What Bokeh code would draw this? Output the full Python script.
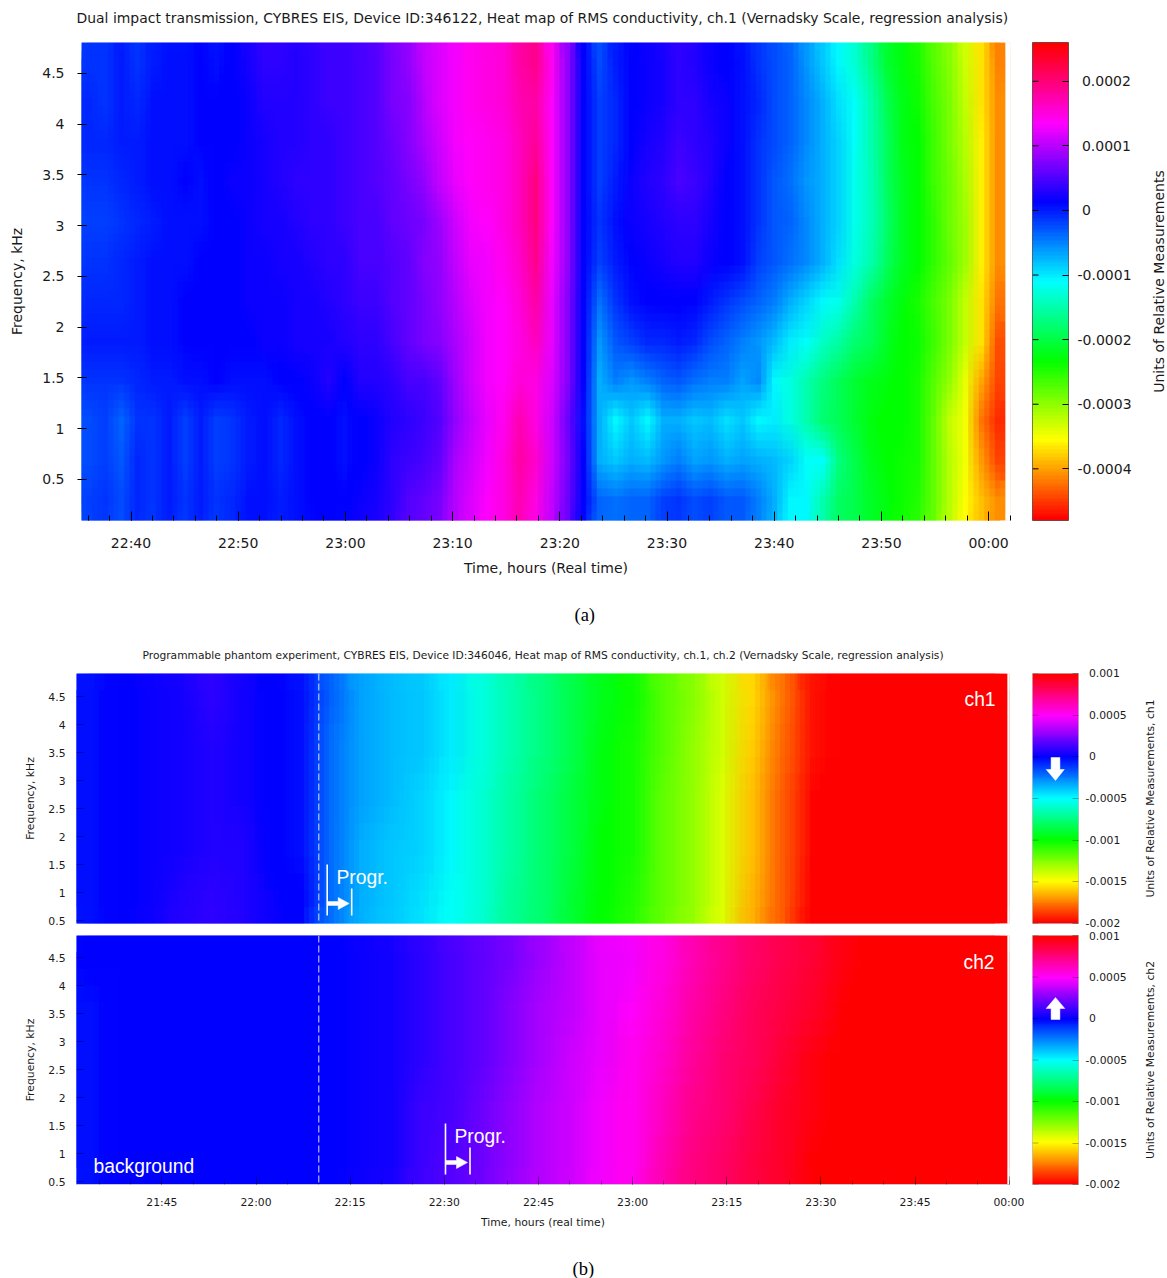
import colorsys
import numpy as np
from bokeh.plotting import figure
from bokeh.layouts import row, column
from bokeh.embed import file_html
from bokeh.resources import INLINE
from bokeh.models import (FixedTicker, LinearColorMapper, Label, Span, Range1d)

# ---- values, in units of 1e-6 (relative measurement) ----
# panel (a): rows listed from top (4.65 kHz) to bottom (0.3 kHz), 58 time columns
a_rows_top_to_bottom = [
 [-15,-15,-5,-15,-5,0,5,10,5,15,25,35,35,30,40,45,45,50,55,70,85,105,120,130,140,148,155,175,190,140,85,15,-25,-5,10,20,25,35,30,22,15,0,-15,-25,-40,-60,-85,-110,-130,-165,-205,-225,-245,-275,-300,-330,-365,-415],
 [-10,-12,-5,-8,0,5,5,10,10,15,20,30,30,30,35,45,45,50,55,70,80,100,118,130,140,145,155,170,175,135,85,15,-20,-8,12,22,28,38,35,25,18,5,-10,-25,-35,-55,-75,-95,-112,-150,-190,-215,-240,-270,-295,-325,-365,-410],
 [-10,-10,-5,-5,0,0,5,8,12,15,20,28,30,32,35,40,45,50,55,65,75,95,112,128,135,140,150,165,180,135,85,15,-18,-8,15,25,32,45,40,30,18,3,-12,-28,-38,-55,-75,-92,-112,-145,-185,-215,-235,-265,-290,-320,-362,-410],
 [-12,-15,-8,-5,0,2,8,5,12,18,20,25,30,35,38,40,45,48,55,60,70,85,105,125,135,140,148,165,195,135,85,15,-18,-5,18,30,35,48,42,30,15,0,-15,-30,-42,-58,-72,-88,-118,-140,-180,-210,-235,-262,-288,-318,-362,-410],
 [-22,-22,-15,-10,-5,0,5,5,10,15,20,25,25,30,35,38,42,48,50,58,65,72,92,115,128,135,145,165,195,135,85,15,-15,0,18,28,32,40,38,28,15,0,-15,-30,-40,-55,-72,-90,-118,-140,-178,-210,-232,-260,-285,-312,-360,-405],
 [-15,-15,-10,-5,0,3,5,8,10,15,20,22,25,28,30,35,40,50,50,55,60,75,85,105,122,132,142,160,185,130,85,15,-20,-5,10,22,28,32,30,22,12,0,-18,-32,-42,-55,-72,-95,-125,-145,-182,-210,-232,-255,-280,-310,-360,-405],
 [-8,-10,-8,-5,0,3,8,10,12,15,18,20,22,25,28,30,35,42,45,55,60,70,82,100,118,128,138,155,175,125,80,15,-45,-15,0,10,12,13,10,-5,-15,-25,-40,-50,-70,-90,-105,-120,-150,-180,-205,-225,-245,-268,-295,-325,-370,-420],
 [-5,-5,-5,-3,2,5,10,12,10,12,15,18,20,25,25,28,32,35,40,50,60,70,78,95,115,128,138,150,165,125,75,15,-60,-30,-18,-10,-8,-5,-10,-25,-40,-50,-60,-80,-100,-112,-135,-155,-175,-190,-212,-230,-240,-265,-295,-325,-370,-435],
 [-12,-15,-15,-8,-5,-5,5,5,10,5,0,0,10,15,20,30,15,30,30,40,50,50,60,90,115,130,135,155,150,120,75,10,-75,-50,-60,-50,-35,-30,-45,-50,-50,-65,-55,-105,-125,-150,-170,-190,-205,-218,-225,-232,-245,-275,-305,-345,-395,-445],
 [-25,-20,-38,-12,-15,-5,-20,-5,-20,-15,-5,5,-8,5,10,15,5,15,20,30,38,45,55,85,105,125,140,170,150,110,65,5,-75,-110,-85,-105,-75,-70,-85,-80,-95,-85,-105,-100,-125,-150,-175,-190,-205,-225,-235,-235,-245,-280,-325,-350,-420,-455],
 [-25,-18,-32,-10,-15,-5,-18,-5,-18,-12,-2,5,-8,5,10,12,5,15,22,35,45,50,62,95,115,130,145,175,160,115,70,8,-70,-85,-70,-80,-60,-50,-65,-60,-70,-65,-75,-80,-90,-115,-115,-170,-195,-215,-228,-238,-245,-280,-320,-350,-400,-440],
 [-22,-15,-28,-8,-12,-3,-15,-3,-15,-10,0,5,-5,5,10,12,8,20,28,40,55,60,70,100,120,135,150,170,150,105,65,10,-40,-45,-35,-40,-22,-15,-25,-20,-30,-30,-50,-70,-105,-110,-145,-180,-195,-210,-225,-240,-250,-280,-320,-355,-385,-410],
]
# panel (b) ch1, rows top to bottom, 31 time columns
b1_rows_top_to_bottom = [
 [-40,0,30,50,90,50,0,-40,-215,-320,-365,-395,-465,-550,-650,-745,-845,-945,-1035,-1160,-1265,-1395,-1570,-1750,-1940,-2050,-2100,-2100,-2100,-2100,-2100],
 [-45,0,25,50,80,55,0,-45,-220,-325,-370,-400,-470,-560,-660,-750,-850,-950,-1040,-1170,-1275,-1405,-1590,-1770,-1950,-2060,-2100,-2100,-2100,-2100,-2100],
 [-50,-5,20,45,75,55,5,-45,-225,-335,-380,-415,-490,-575,-670,-760,-860,-960,-1050,-1180,-1285,-1415,-1610,-1790,-1965,-2060,-2100,-2100,-2100,-2100,-2100],
 [-45,-5,25,55,85,70,15,-40,-230,-340,-390,-425,-500,-585,-680,-770,-870,-970,-1060,-1190,-1290,-1425,-1625,-1800,-1975,-2060,-2100,-2100,-2100,-2100,-2100],
 [-35,0,35,65,100,85,20,-30,-230,-345,-395,-430,-505,-590,-690,-780,-880,-975,-1065,-1195,-1295,-1435,-1635,-1810,-1980,-2060,-2100,-2100,-2100,-2100,-2100],
]
# panel (b) ch2, rows top to bottom, 31 time columns
b2_rows_top_to_bottom = [
 [-30,0,5,10,15,15,10,5,15,30,60,100,140,180,240,310,380,440,480,540,630,710,770,830,880,930,990,1030,1100,1100,1100],
 [-35,0,5,10,15,15,10,5,15,30,60,105,145,190,255,325,390,450,495,565,655,730,790,850,905,955,1010,1050,1100,1100,1100],
 [-40,0,5,10,15,15,10,5,12,28,60,105,150,200,265,335,400,460,510,590,680,750,810,870,930,980,1030,1060,1100,1100,1100],
 [-40,0,5,10,12,12,8,5,10,25,60,110,155,210,280,345,405,465,520,610,700,765,825,885,950,1000,1040,1070,1100,1100,1100],
 [-40,0,5,8,10,10,8,5,10,25,60,110,160,220,290,350,410,470,530,630,720,780,840,900,970,1020,1060,1080,1100,1100,1100],
]
freq_ticks_a = [0.5,1,1.5,2,2.5,3,3.5,4,4.5]
freq_labels = ["0.5","1","1.5","2","2.5","3","3.5","4","4.5"]
time_ticks_a = [40,50,60,70,80,90,100,110,120]
time_labels_a = ["22:40","22:50","23:00","23:10","23:20","23:30","23:40","23:50","00:00"]
time_ticks_b = [45,60,75,90,105,120,135,150,165,180]
time_labels_b = ["21:45","22:00","22:15","22:30","22:45","23:00","23:15","23:30","23:45","00:00"]
cb_ticks_a = [200,100,0,-100,-200,-300,-400]
cb_labels_a = ["0.0002","0.0001","0","-0.0001","-0.0002","-0.0003","-0.0004"]
cb_ticks_b = [1000,500,0,-500,-1000,-1500,-2000]
cb_labels_b = ["0.001","0.0005","0","-0.0005","-0.001","-0.0015","-0.002"]

for r in a_rows_top_to_bottom: assert len(r)==58, len(r)
for r in b1_rows_top_to_bottom+b2_rows_top_to_bottom: assert len(r)==31, len(r)

# ---- style ----
SANS="DejaVu Sans"; TEXT="#1a1a1a"; WHITE="#ffffff"
palette=[]
for i in range(128):
    r,g,b=colorsys.hsv_to_rgb(i/127.0,1,1)
    palette.append("#%02x%02x%02x"%(round(r*255),round(g*255),round(b*255)))
map_a=LinearColorMapper(palette=palette,low=-480,high=260)
map_b=LinearColorMapper(palette=palette,low=-2000,high=1000)

# page-pixel helpers
ax=lambda px:40+(px-130.5)/10.72
bx=lambda px:45+(px-161.4)/6.276
b1y=lambda py:4.5-(py-696)/56
b2y=lambda py:4.5-(py-957)/56

def heat(w,h,left,right,top,bottom,xr,yr,rows,mapper,img_x0,img_x1,img_y0,img_y1,nx,ny):
    p=figure(width=w,height=h,x_range=Range1d(*xr),y_range=Range1d(*yr),output_backend="svg",toolbar_location=None,
             min_border_left=left,min_border_right=right,min_border_top=top,min_border_bottom=bottom,
             outline_line_color=None,tools="")
    p.grid.visible=False
    arr=np.array(rows[::-1],dtype=float)
    dw=img_x1-img_x0; dh=img_y1-img_y0
    cw=dw/arr.shape[1]; ch=dh/arr.shape[0]
    p.image(image=[arr],x=img_x0,y=img_y0,dw=dw,dh=dh,color_mapper=mapper)
    # the same cells, drawn again slightly offset and see-through, soften the cell edges as the original's rendering does
    k=1
    for i in range(nx):
        for j in range(ny):
            fx=(i+0.5)/nx-0.5; fy=(j+0.5)/ny-0.5
            if abs(fx)<1e-9 and abs(fy)<1e-9: continue
            k+=1
            p.image(image=[arr],x=img_x0+fx*cw,y=img_y0+fy*ch,dw=dw,dh=dh,color_mapper=mapper,global_alpha=1.0/k)
    p.quad(left=[img_x1],right=[xr[1]],bottom=[yr[0]],top=[yr[1]],fill_color=WHITE,line_color=None)
    return p

def style_y(p,size,tin,tout,color,alpha,standoff,label,lab_standoff):
    a=p.yaxis[0]
    a.ticker=FixedTicker(ticks=freq_ticks_a)
    a.major_label_overrides=dict(zip(freq_ticks_a,freq_labels))
    a.major_label_text_font=SANS;a.major_label_text_font_size=size;a.major_label_text_color=TEXT
    a.major_tick_in=tin;a.major_tick_out=tout;a.major_tick_line_color=color;a.major_tick_line_alpha=alpha
    a.minor_tick_line_color=None;a.axis_line_color=None;a.major_label_standoff=standoff
    a.axis_label=label;a.axis_label_text_font=SANS;a.axis_label_text_font_size=size
    a.axis_label_text_font_style="normal";a.axis_label_text_color=TEXT;a.axis_label_standoff=lab_standoff

def colorbar(w,h,left,fw,top,bottom,low,high,mapper,ticks,labels,size,standoff,line,alpha,tick):
    p=figure(width=w,height=h,x_range=Range1d(0,fw),y_range=Range1d(low,high),output_backend="svg",toolbar_location=None,
             min_border_left=left,min_border_right=w-left-fw,min_border_top=top,min_border_bottom=bottom,
             x_axis_location=None,y_axis_location="right",outline_line_color=line,tools="")
    p.grid.visible=False
    p.image(image=[np.linspace(low,high,256).reshape(-1,1)],x=0,y=low,dw=fw,dh=high-low,color_mapper=mapper)
    a=p.yaxis[0]
    a.ticker=FixedTicker(ticks=ticks)
    a.major_label_overrides={t:(l if l.startswith("-") else "\u00a0"+l) for t,l in zip(ticks,labels)}
    a.major_label_text_font=SANS;a.major_label_text_font_size=size;a.major_label_text_color=TEXT
    a.major_tick_in=tick;a.major_tick_out=0;a.major_tick_line_color="#000000";a.major_tick_line_alpha=alpha
    a.minor_tick_line_color=None;a.axis_line_color=None;a.major_label_standoff=standoff
    p.segment(x0=[0]*len(ticks),x1=[tick]*len(ticks),y0=ticks,y1=ticks,line_color="#000000",line_alpha=alpha,line_width=1)
    return p

def side_label(w,h,top,bottom,text,size,standoff):
    # narrow strip whose left axis carries only the rotated colour-bar caption
    p=figure(width=w,height=h,x_range=Range1d(0,1),y_range=Range1d(0,1),output_backend="svg",toolbar_location=None,
             min_border_left=w-1,min_border_right=0,min_border_top=top,min_border_bottom=bottom,
             x_axis_location=None,outline_line_color=None,tools="")
    p.grid.visible=False
    a=p.yaxis[0]
    a.ticker=FixedTicker(ticks=[]);a.minor_tick_line_color=None;a.major_tick_line_color=None;a.axis_line_color=None
    a.axis_label=text;a.axis_label_standoff=standoff;a.axis_label_text_font=SANS;a.axis_label_text_font_size=size
    a.axis_label_text_font_style="normal";a.axis_label_text_color=TEXT
    return p

def text_row(h,top,left,text,offset,font,size,color):
    # full-width strip that holds one line of text: panel titles and the (a)/(b) captions
    p=figure(width=1167,height=h,x_range=Range1d(0,1),y_range=Range1d(0,1),output_backend="svg",toolbar_location=None,
             min_border_left=left,min_border_right=0,min_border_top=top,min_border_bottom=0,
             x_axis_location=None,y_axis_location=None,outline_line_color=None,tools="")
    p.grid.visible=False
    p.title.text=text;p.title.text_font=font;p.title.text_font_size=size;p.title.text_font_style="normal"
    p.title.text_color=color;p.title.offset=offset;p.title.standoff=0
    return p

# ---- panel (a) ----
t1=text_row(34,25,76,"Dual impact transmission, CYBRES EIS, Device ID:346122, Heat map of RMS conductivity, ch.1 (Vernadsky Scale, regression analysis)",0,SANS,"13.95px",TEXT)
pa=heat(1024,568,81,14,8,82,(ax(81),ax(1010)),(0.096,4.805),a_rows_top_to_bottom,map_a,ax(81),ax(1005),0.096,4.805,3,5)
style_y(pa,"14px",5,4,"#000000",1,13,"Frequency, kHz",14)
xa=pa.xaxis[0]
xa.ticker=FixedTicker(ticks=time_ticks_a,minor_ticks=list(range(36,124,2)))
xa.major_label_overrides=dict(zip(time_ticks_a,time_labels_a))
xa.major_label_text_font=SANS;xa.major_label_text_font_size="14px";xa.major_label_text_color=TEXT
xa.major_tick_in=9;xa.major_tick_out=0;xa.minor_tick_in=5;xa.minor_tick_out=0;xa.axis_line_color=None
xa.major_tick_line_color="#000000";xa.minor_tick_line_color="#000000";xa.major_label_standoff=14
xa.axis_label="Time, hours (Real time)";xa.axis_label_text_font=SANS;xa.axis_label_text_font_size="14px"
xa.axis_label_text_font_style="normal";xa.axis_label_text_color=TEXT;xa.axis_label_standoff=6
ca=colorbar(116,568,8,36,8,82,-480,260,map_a,cb_ticks_a,cb_labels_a,"14px",9,"#555555",1,6)
la=side_label(27,568,8,82,"Units of Relative Measurements","14px",0)
cap_a=text_row(38,0,76,"(a)",498,"Liberation Serif","18.5px","#000000")

# ---- panel (b) ----
t2=text_row(25,21,76,"Programmable phantom experiment, CYBRES EIS, Device ID:346046, Heat map of RMS conductivity, ch.1, ch.2 (Vernadsky Scale, regression analysis)",66,SANS,"10.68px",TEXT)
xr_b=(bx(76),bx(1009))
p1=heat(1024,264,76,15,8,6,xr_b,(b1y(923),b1y(673)),b1_rows_top_to_bottom,map_b,bx(76),bx(1007),b1y(923),b1y(673),6,3)
style_y(p1,"10.8px",7,0,"#000000",0.35,11,"Frequency, kHz",8)
p1.xaxis.visible=False
p2=heat(1024,329,76,15,6,74,xr_b,(b2y(1184),b2y(935)),b2_rows_top_to_bottom,map_b,bx(76),bx(1007),b2y(1184),b2y(935),6,3)
style_y(p2,"10.8px",7,0,"#000000",0.35,11,"Frequency, kHz",8)
xb=p2.xaxis[0]
xb.ticker=FixedTicker(ticks=time_ticks_b,minor_ticks=list(range(35,185,5)))
xb.major_label_overrides=dict(zip(time_ticks_b,time_labels_b))
xb.major_label_text_font=SANS;xb.major_label_text_font_size="10.8px";xb.major_label_text_color=TEXT
xb.major_tick_in=8;xb.major_tick_out=0;xb.minor_tick_in=4;xb.minor_tick_out=0;xb.axis_line_color="#c8c8d8"
xb.major_tick_line_color="#000000";xb.minor_tick_line_color="#000000";xb.major_tick_line_alpha=0.35;xb.minor_tick_line_alpha=0.35
xb.major_label_standoff=11
xb.axis_label="Time, hours (real time)";xb.axis_label_text_font=SANS;xb.axis_label_text_font_size="10.8px"
xb.axis_label_text_font_style="normal";xb.axis_label_text_color=TEXT;xb.axis_label_standoff=4
cap_b=text_row(20,0,76,"(b)",496,"Liberation Serif","18.5px","#000000")

for p in (p1,p2):
    p.add_layout(Span(location=70,dimension="height",line_color="#dcdcf0",line_dash="7 3",line_width=1))

def white_text(p,x,y,t):
    p.add_layout(Label(x=x,y=y,text=t,text_font="Liberation Sans",text_font_size="19.3px",text_color=WHITE,text_baseline="alphabetic"))
def progr(p,fx,fy,x0,y0,xtext,ytext):
    # bracket lines and block arrow, given in page pixels relative to the start of the programme
    p.segment(x0=[fx(x0),fx(x0+24.5)],y0=[fy(y0-39),fy(y0-15)],x1=[fx(x0),fx(x0+24.5)],y1=[fy(y0+12),fy(y0+12)],line_color=WHITE,line_width=1.6)
    sx=[0,11,11,22,11,11,0]; sy=[-2,-2,-6,0,6,2,2]
    p.patch(x=[fx(x0+a) for a in sx],y=[fy(y0+b) for b in sy],fill_color=WHITE,line_color=WHITE,line_width=0.5)
    white_text(p,fx(xtext),fy(ytext),"Progr.")

progr(p1,bx,b1y,326.7,903,336,876.5)
progr(p2,bx,b2y,445,1162,454,1135.5)
white_text(p1,bx(964),b1y(698.5),"ch1")
white_text(p2,bx(963),b2y(961.5),"ch2")
white_text(p2,bx(93),b2y(1165.5),"background")

c1=colorbar(106,264,8,47,8,6,-2000,1000,map_b,cb_ticks_b,cb_labels_b,"10.8px",7,"#c0c0c0",0.3,6)
c2=colorbar(106,329,8,47,6,74,-2000,1000,map_b,cb_ticks_b,cb_labels_b,"10.8px",7,"#c0c0c0",0.3,6)
l1=side_label(37,264,8,6,"Units of Relative Measurements, ch1","10.8px",10)
l2=side_label(37,329,6,74,"Units of Relative Measurements, ch2","10.8px",10)
# white direction arrows on the colour bars (page pixels relative to the bar frame)
cx=lambda px:px-1032
c1y=lambda py:1000-(py-673)*3000/250
c2y=lambda py:1000-(py-935)*3000/249
c1.patch(x=[cx(v) for v in [1051,1060,1060,1064.5,1055.5,1046,1051]],y=[c1y(v) for v in [757,757,769,769,780,769,769]],fill_color=WHITE,line_color=WHITE,line_width=0.5)
c2.patch(x=[cx(v) for v in [1051,1060,1060,1065,1055.5,1046,1051]],y=[c2y(v) for v in [1019,1019,1008,1008,997,1008,1008]],fill_color=WHITE,line_color=WHITE,line_width=0.5)

page=column(t1,row(pa,ca,la),cap_a,t2,row(p1,c1,l1),row(p2,c2,l2),cap_b)
open("out.html","w").write(file_html(page,INLINE))
